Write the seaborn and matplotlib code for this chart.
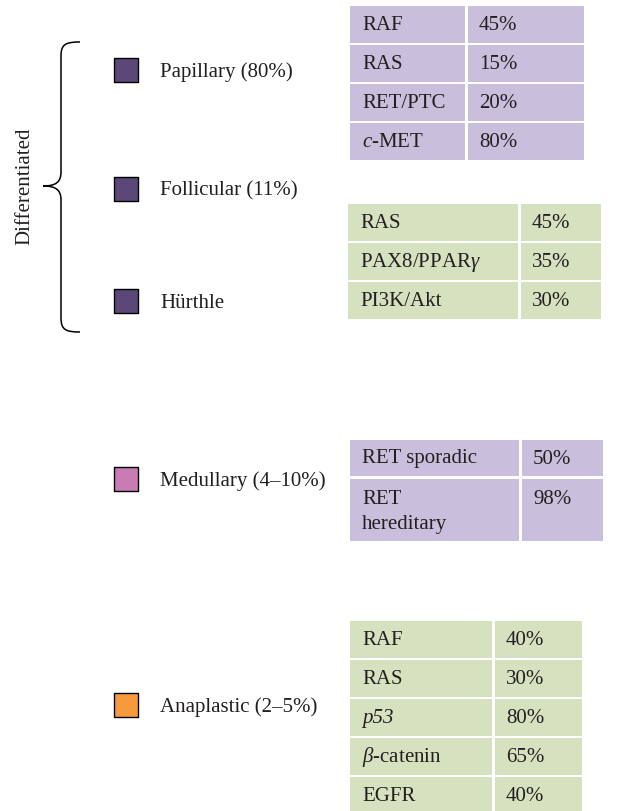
import numpy as np
import matplotlib.pyplot as plt
import matplotlib.patches as mpatches
from matplotlib.path import Path
import seaborn as sns
import pandas as pd

sns.set_style("white")
plt.rcParams["font.family"] = ["Liberation Serif", "DejaVu Serif"]
plt.rcParams["mathtext.fontset"] = "custom"
plt.rcParams["mathtext.rm"] = "Liberation Serif"
plt.rcParams["mathtext.it"] = "Liberation Serif:italic"

# subtype legend entries
subtypes = ["Papillary (80%)", "Follicular (11%)", "Hürthle",
            "Medullary (4–10%)", "Anaplastic (2–5%)"]
subtype_colors = ["#5B4878", "#5B4878", "#5B4878", "#C97BB4", "#F59B3C"]

# mutation tables
papillary_genes = ["RAF", "RAS", "RET/PTC", "$c$-MET"]
papillary_pct = ["45%", "15%", "20%", "80%"]
follicular_genes = ["RAS", "PAX8/PPAR$γ$", "PI3K/Akt"]
follicular_pct = ["45%", "35%", "30%"]
medullary_genes = ["RET sporadic", "RET\nhereditary"]
medullary_pct = ["50%", "98%"]
anaplastic_genes = ["RAF", "RAS", "p53", "$β$-catenin", "EGFR"]
anaplastic_pct = ["40%", "30%", "80%", "65%", "40%"]
italic_genes = {"p53"}

PURPLE = "#C9BEDB"
GREEN = "#D6E1BF"
INK = "#231F20"
FS = 15

W, H = 629, 811
fig = plt.figure(figsize=(W / 100, H / 100), dpi=100)
ax = fig.add_axes([0, 0, 1, 1])

# legend squares through seaborn
sq = pd.DataFrame({"x": [126] * 5, "y": [70, 189, 301, 479, 705],
                   "name": subtypes})
sns.scatterplot(data=sq, x="x", y="y", hue="name", palette=subtype_colors,
                marker="s", s=300, edgecolor="black", linewidth=1.0,
                legend=False, ax=ax)
ax.set_xlim(0, W)
ax.set_ylim(H, 0)
ax.axis("off")
for name, y in zip(subtypes, sq["y"]):
    ax.text(160, y + 2, name, fontsize=FS, color=INK, va="center", ha="left")


def draw_table(genes, pcts, x0, xdiv, x1, ytop, heights, color):
    y = ytop
    for g, p, h in zip(genes, pcts, heights):
        ax.add_patch(mpatches.Rectangle((x0, y), xdiv - x0 - 1.5, h,
                                        facecolor=color, edgecolor="none"))
        ax.add_patch(mpatches.Rectangle((xdiv + 1.5, y), x1 - xdiv - 1.5, h,
                                        facecolor=color, edgecolor="none"))
        style = "italic" if g in italic_genes else "normal"
        if "\n" in g:
            ax.text(x0 + 12, y + 11, g, fontsize=FS, color=INK, va="top",
                    linespacing=1.5)
            ax.text(xdiv + 13, y + 11, p, fontsize=FS, color=INK, va="top")
        else:
            ax.text(x0 + 12, y + h / 2 + 1, g, fontsize=FS, color=INK,
                    va="center", fontstyle=style)
            ax.text(xdiv + 13, y + h / 2 + 1, p, fontsize=FS, color=INK, va="center")
        y += h + 2.5


draw_table(papillary_genes, papillary_pct, 350, 466, 584, 6, [36.5] * 4, PURPLE)
draw_table(follicular_genes, follicular_pct, 348, 519, 601, 204, [36.5] * 3, GREEN)
draw_table(medullary_genes, medullary_pct, 350, 520, 603, 440, [36, 62], PURPLE)
draw_table(anaplastic_genes, anaplastic_pct, 350, 493, 582, 621, [36.5] * 5, GREEN)

# curly brace for differentiated group
verts = [(80, 42), (66, 42), (61, 44), (61, 56),
         (61, 172),
         (61, 182), (56, 186), (43, 186),
         (56, 186), (61, 190), (61, 200),
         (61, 318),
         (61, 330), (66, 332), (80, 332)]
codes = [Path.MOVETO, Path.CURVE4, Path.CURVE4, Path.CURVE4,
         Path.LINETO,
         Path.CURVE4, Path.CURVE4, Path.CURVE4,
         Path.CURVE4, Path.CURVE4, Path.CURVE4,
         Path.LINETO,
         Path.CURVE4, Path.CURVE4, Path.CURVE4]
ax.add_patch(mpatches.PathPatch(Path(verts, codes), facecolor="none",
                                edgecolor="black", linewidth=1.1))
ax.text(25, 186, "Differentiated", fontsize=FS, color=INK, rotation=90,
        ha="center", va="center")

fig.savefig("out.png", dpi=100)
